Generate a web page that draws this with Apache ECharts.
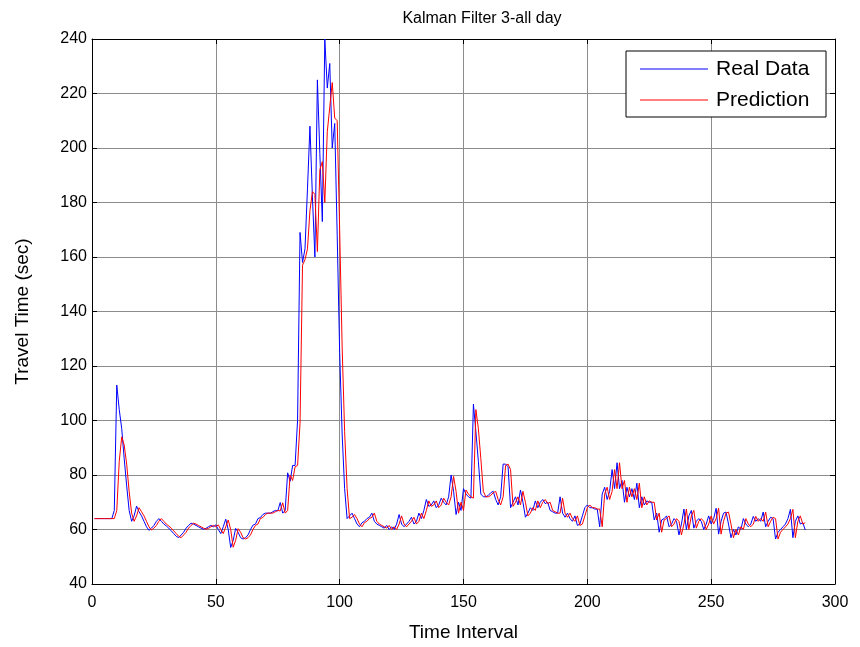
<!DOCTYPE html>
<html>
<head>
<meta charset="utf-8">
<script src="https://cdn.jsdelivr.net/npm/echarts@6/dist/echarts.min.js"></script>
<style>
  html, body { margin: 0; padding: 0; background: #fff; }
  #chart { width: 860px; height: 647px; }
</style>
</head>
<body>
<div id="chart"></div>
<script>
// travel time per 5-min interval, 288 intervals
var realData = [
  64,64,64,64,64,64,64,64,67,113,
  104,97,86,76,67,63,65,68.6,66.5,65,
  63,61,59.7,60.5,61.5,63,64,63,62,61.3,
  60.5,59.5,58.5,57.5,57,58,59,60.5,61.5,62.3,
  62,61.5,61,60.5,60.1,60.4,61,61.5,61,61.7,
  60,58.5,61,63.8,60,53.4,56,60.4,59,57,
  56.5,57,58,60,61.6,62,64,64.4,65.5,66,
  66,66,66.5,67,66.8,69.9,66,67,80.8,77.7,
  83.5,83.5,100,169,158,163,185,208,182,160,
  225,198,173,240,222,231,200,209,168,125,
  95,75,64,65,66,64,62,61,62.5,63,
  64,64.5,66,63,62,61.5,61,60.5,61.5,60,
  61,60,62,65.5,62,61,62,63,64.5,62,
  63,66,64,67,71,68.5,69,70.5,68,69,
  71.5,70,69,72,80,74,65.5,70,67,75,
  73,72,71.5,106,96,85,73,72,72,72.5,
  73.5,74,71,69,72,84,84,83,68,70,
  72,69,74.5,70,64.5,66,68,67,70.5,68,
  70,71,69.5,70,67,66.5,66,66,72,66,
  64.5,66,64,63,65,61.5,62,65,68,69,
  68,68,67.5,67.5,61,73,75.5,71,74,82,
  75,84.5,75,78,70,75.5,72,75,71,77,
  68,72,69,70.5,70,70,63.5,66,59,63.5,
  64,65,61,62,64,63,58,62,67.5,60,
  65,67,60.5,63,64,63,60,62,65,62,
  64,67.8,58.3,63,66,66.4,62,57,60,58,
  61,60,64,62,61,62,64.8,63,64,63,
  66.4,61,63,64.5,64,56.5,59,60,61,62,
  64,67.4,57,63,65,62,62.5,59.8
];

var predData = [
  64,64,64,64,64,64,64,64,64,67,
  85,94,91,84,74,66,63,65,68,66.5,
  65,63,61,59.8,60.5,61.5,63,64,63,62,
  61.3,60.5,59.5,58.5,57.5,57,58,59,60.5,61.5,
  62.3,62,61.5,61,60.5,60.1,60.4,61,61.5,61,
  61.7,60,58.5,61,63.5,60,53.5,56,60.3,59,
  57,56.5,57,58,60,61.5,62,64,64.4,65.5,
  66,66,66,66.5,67,66.8,69.8,66,67,80,
  78,83,83.5,99,157,159,163,177,184,183,
  162,192,195,180,206,215,224,211,210,170,
  127,96,75,64,64.5,65.5,64,62,61,62.5,
  63,64,64.5,66,63,62,61.5,61,60.5,61.5,
  60,61,60,62,65,62,61,62,63,64.5,
  62,63,66,64,67,70.5,68.5,69,70.5,68,
  69,71.5,70,69,72,79.5,74,66,70,67,
  74.5,73,72,71.5,104,97,86,74,72,72,
  72.5,73.5,74,71,69,72,83.5,84,82,68.5,
  70,72,69,74,70,65,66,68,67,70.5,
  68,70,71,69.5,70,67,66.5,66,66,71.5,
  66,64.5,66,64,63,65,61.5,62,65,68,
  69,68,68,67.5,67.5,61,73,75.5,71,74,
  82,75,84.5,75,78,70,75.5,72,75,71,
  77,68,72,69,70.5,70,70,63.5,66,59,
  63.5,64,65,61,62,64,63,58,62,67.5,
  60,65,67,60.5,63,64,63,60,62,65,
  62,64,67.8,58.3,63,66,66.4,62,57,60,
  58,61,60,64,62,61,62,64.8,63,64,
  63,66.4,61,63,64.5,64,56.5,59,60,61,
  62,64,67.4,57,63,65,62,62.5
];

var seriesNames = ['Real Data', 'Prediction'];

function toPairs(arr) {
  var out = [];
  for (var i = 0; i < arr.length; i++) {
    out.push([i + 1, arr[i]]);
  }
  return out;
}

var font = 'Liberation Sans, Arial, Helvetica, sans-serif';

var chart = echarts.init(document.getElementById('chart'));

var gridLine = { show: true, lineStyle: { color: '#8c8c8c', width: 1, type: 'solid' } };
var boxLine = { show: true, onZero: false, lineStyle: { color: '#000', width: 1 } };
var inTick = { show: true, inside: true, length: 5, lineStyle: { color: '#000' } };

chart.setOption({
  animation: false,
  backgroundColor: '#fff',
  title: {
    text: 'Kalman Filter 3-all day',
    left: 477,
    textAlign: 'center',
    top: 6,
    textStyle: { fontFamily: font, fontSize: 16, fontWeight: 'normal', color: '#000' }
  },
  grid: { left: 92, right: 25, top: 39, bottom: 62 },
  legend: {
    data: seriesNames,
    orient: 'vertical',
    left: 626,
    top: 51,
    padding: [7, 14, 6, 14],
    itemGap: 9,
    itemWidth: 68,
    itemHeight: 1,
    icon: 'rect',
    backgroundColor: '#fff',
    borderColor: '#000',
    borderWidth: 1,
    borderRadius: 0,
    textStyle: { fontFamily: font, fontSize: 21, color: '#000', width: 96, lineHeight: 22, padding: [0, 0, 0, 3] }
  },
  xAxis: [{
    type: 'value', min: 0, max: 300, interval: 50, position: 'bottom',
    name: 'Time Interval', nameLocation: 'middle', nameGap: 39,
    nameTextStyle: { fontFamily: font, fontSize: 19, color: '#000' },
    axisLine: boxLine, axisTick: inTick,
    axisLabel: { fontFamily: font, fontSize: 16, color: '#000', margin: 11 },
    splitLine: gridLine
  }, {
    type: 'value', min: 0, max: 300, interval: 50, position: 'top',
    axisLine: boxLine, axisTick: inTick,
    axisLabel: { show: false }, splitLine: { show: false }
  }],
  yAxis: [{
    type: 'value', min: 40, max: 240, interval: 20, position: 'left',
    name: 'Travel Time (sec)', nameLocation: 'middle', nameGap: 60, nameRotate: 90,
    nameTextStyle: { fontFamily: font, fontSize: 19, color: '#000' },
    axisLine: boxLine, axisTick: inTick,
    axisLabel: { fontFamily: font, fontSize: 16, color: '#000', margin: 5 },
    splitLine: gridLine
  }, {
    type: 'value', min: 40, max: 240, interval: 20, position: 'right',
    axisLine: boxLine, axisTick: inTick,
    axisLabel: { show: false }, splitLine: { show: false }
  }],
  series: [{
    name: seriesNames[0],
    type: 'line',
    data: toPairs(realData),
    showSymbol: false,
    symbol: 'none',
    color: '#0000ff',
    lineStyle: { color: '#0000ff', width: 1 },
    xAxisIndex: 0, yAxisIndex: 0
  }, {
    name: seriesNames[1],
    type: 'line',
    data: toPairs(predData),
    showSymbol: false,
    symbol: 'none',
    color: '#ff0000',
    lineStyle: { color: '#ff0000', width: 1 },
    xAxisIndex: 0, yAxisIndex: 0
  }]
});
</script>
</body>
</html>
